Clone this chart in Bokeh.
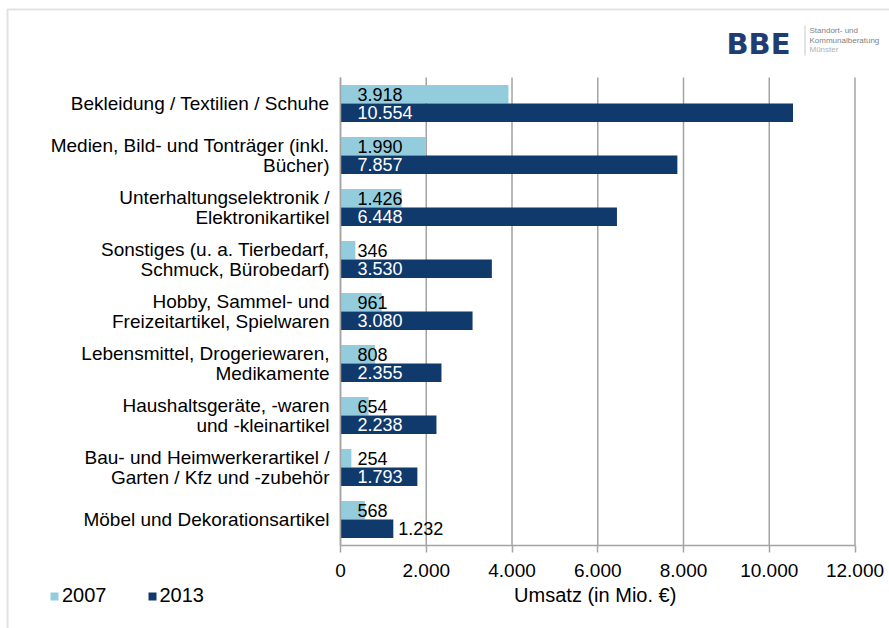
from bokeh.plotting import figure
from bokeh.models import (Range1d, FixedTicker, Legend, LegendItem,
                          ColumnDataSource, Label, BoxAnnotation)
from bokeh.core.properties import value
from bokeh.transform import dodge
from bokeh.embed import file_html
from bokeh.resources import INLINE

categories = [
    "Bekleidung / Textilien / Schuhe",
    "Medien, Bild- und Tonträger (inkl.\nBücher)",
    "Unterhaltungselektronik /\nElektronikartikel",
    "Sonstiges (u. a. Tierbedarf,\nSchmuck, Bürobedarf)",
    "Hobby, Sammel- und\nFreizeitartikel, Spielwaren",
    "Lebensmittel, Drogeriewaren,\nMedikamente",
    "Haushaltsgeräte, -waren\nund -kleinartikel",
    "Bau- und Heimwerkerartikel /\nGarten / Kfz und -zubehör",
    "Möbel und Dekorationsartikel",
]
values_2007 = [3918, 1990, 1426, 346, 961, 808, 654, 254, 568]
values_2013 = [10554, 7857, 6448, 3530, 3080, 2355, 2238, 1793, 1232]
series_names = ["2007", "2013"]
tick_values = [0, 2000, 4000, 6000, 8000, 10000, 12000]
tick_labels = ["0", "2.000", "4.000", "6.000", "8.000", "10.000", "12.000"]
x_title = "Umsatz  (in Mio. €)"

LIGHT = "#93CDDD"
DARK = "#10396C"
GRID = "#A3A3A3"
FONT = "Liberation Sans"
W, H = 889, 628


def fmt(v):
    return f"{v:,}".replace(",", ".")


n = len(categories)
ypos = [n - 1 - i for i in range(n)]          # top category first

src = ColumnDataSource(dict(
    y=ypos,
    v07=values_2007,
    v13=values_2013,
    l07=[fmt(v) for v in values_2007],
    l13=[fmt(v) for v in values_2013],
    x13=[0 if v >= 1500 else v for v in values_2013],
    o13=[17 if v >= 1500 else 5 for v in values_2013],
    c13=["white" if v >= 1500 else "black" for v in values_2013],
))

# layout: plot area from page x 340..854.5, y 77..545 (52 px per category)
k = 514.5 / tick_values[-1]
x0 = -340 / k
x1 = (W - 340) / k
y_lo = -0.5 - (H - 545) / 52.0
y_hi = (n - 0.5) + 77 / 52.0

p = figure(
    width=W, height=H,
    min_border=0, min_border_left=0, min_border_right=0,
    min_border_top=0, min_border_bottom=0,
    x_range=Range1d(x0, x1), y_range=Range1d(y_lo, y_hi),
    output_backend="svg", toolbar_location=None,
)
p.outline_line_color = None
p.background_fill_color = "white"
p.border_fill_color = "white"
p.xgrid.visible = False
p.ygrid.visible = False

# chart border
p.add_layout(BoxAnnotation(left=7, right=W + 20, bottom=-20, top=H - 9,
                           left_units="screen", right_units="screen",
                           bottom_units="screen", top_units="screen",
                           fill_alpha=0, line_color="#A0A0A0", line_width=2))

# vertical grid lines
p.segment(x0=tick_values, x1=tick_values, y0=-0.5, y1=n - 0.5,
          line_color=GRID, line_width=1.5)

bh = 0.356
r07 = p.hbar(y=dodge("y", bh / 2), right="v07", left=0, height=bh,
             source=src, fill_color=LIGHT, line_color=None)
r13 = p.hbar(y=dodge("y", -bh / 2), right="v13", left=0, height=bh,
             source=src, fill_color=DARK, line_color=None)

p.text(x=0, y=dodge("y", bh / 2), text="l07", source=src,
       x_offset=17, text_baseline="middle", text_align="left",
       text_font_size="18px", text_color="black", text_font=value(FONT))
p.text(x="x13", y=dodge("y", -bh / 2), text="l13", source=src,
       x_offset="o13", text_baseline="middle", text_align="left",
       text_font_size="18px", text_color="c13", text_font=value(FONT))

# x axis
xa = p.xaxis[0]
xa.fixed_location = -0.5
xa.bounds = (tick_values[0], tick_values[-1])
xa.ticker = FixedTicker(ticks=tick_values)
xa.major_label_overrides = {t: l for t, l in zip(tick_values, tick_labels)}
xa.axis_line_color = GRID
xa.axis_line_width = 1.5
xa.major_tick_line_color = GRID
xa.major_tick_line_width = 1.5
xa.major_tick_out = 7
xa.major_tick_in = 0
xa.minor_tick_line_color = None
xa.major_label_text_font = FONT
xa.major_label_text_font_size = "19px"
xa.major_label_text_color = "black"
xa.major_label_standoff = 11
xa.axis_label = x_title
xa.axis_label_text_font = FONT
xa.axis_label_text_font_size = "20px"
xa.axis_label_text_font_style = "normal"
xa.axis_label_text_color = "black"
xa.axis_label_standoff = 4

# y axis
ya = p.yaxis[0]
ya.fixed_location = 0
ya.bounds = (-0.5, n - 0.5)
ya.ticker = FixedTicker(ticks=ypos)
ya.major_label_overrides = {y: c for y, c in zip(ypos, categories)}
ya.axis_line_color = GRID
ya.axis_line_width = 1.5
ya.major_tick_line_color = None
ya.minor_tick_line_color = None
ya.major_tick_out = 0
ya.major_tick_in = 0
ya.major_label_text_font = FONT
ya.major_label_text_font_size = "19px"
ya.major_label_text_color = "black"
ya.major_label_text_line_height = 0.92
ya.major_label_standoff = 11

legend = Legend(
    items=[LegendItem(label=series_names[0], renderers=[r07]),
           LegendItem(label=series_names[1], renderers=[r13])],
    location=(49, H - 607), orientation="horizontal",
    glyph_width=10, glyph_height=10, label_standoff=3, spacing=40,
    label_height=20, padding=0, margin=0, border_line_color=None,
    background_fill_alpha=0,
    label_text_font=FONT, label_text_font_size="20px", label_text_color="black",
)
p.add_layout(legend, "center")

# logo
p.add_layout(Label(x=726, y=H - 43, x_units="screen", y_units="screen", text="BBE",
                   text_font="DejaVu Sans", text_font_style="bold", text_font_size="29px",
                   text_color="#1F3C73", text_baseline="alphabetic"))
p.add_layout(BoxAnnotation(left=804, right=805, bottom=H - 55, top=H - 25,
                           left_units="screen", right_units="screen",
                           bottom_units="screen", top_units="screen",
                           fill_color="#C8C8C8", fill_alpha=1, line_color=None))
for txt, py, col in [("Standort- und", 30, "#7F7F7F"),
                     ("Kommunalberatung", 40, "#7F7F7F"),
                     ("Münster", 49, "#B0B0B0")]:
    p.add_layout(Label(x=809, y=H - py, x_units="screen", y_units="screen", text=txt,
                       text_font=FONT, text_font_size="8px", text_color=col,
                       text_baseline="middle"))

open("out.html", "w").write(file_html(p, INLINE))
